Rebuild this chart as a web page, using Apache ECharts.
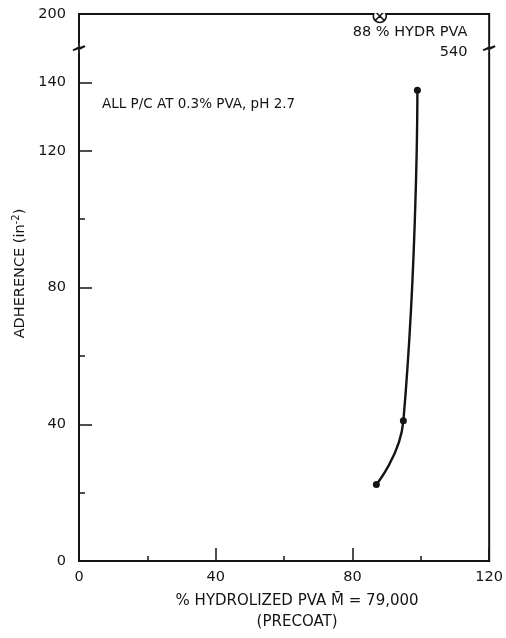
<!DOCTYPE html>
<html>
<head>
<meta charset="utf-8">
<script src="https://cdn.jsdelivr.net/npm/echarts@6/dist/echarts.min.js"></script>
<style>
  html, body { margin: 0; padding: 0; background: #fff; }
  #chart { width: 506px; height: 638px; }
</style>
</head>
<body>
<div id="chart"></div>
<script>
// Precoat series: % hydrolysis of PVA vs adherence
const hydrolysis = [87.0, 94.9, 99.0];
const adherence = [22.4, 41.0, 137.7];

// Off-scale reference point (plotted at the top of the axis)
const offScaleX = 88;
const offScaleY = 540;

// Axis ticks and labels
const xMajorTicks = [0, 40, 80, 120];
const yLabelValues = [0, 40, 80, 120, 140, 200];
const yMajorTicks = [40, 80, 120, 140];
const yMinorTicks = [20, 60, 100];

// Value range hidden by the axis break
const Y_MAX = 200;
const breakStart = 145;
const breakEnd = 195;

const INK = '#141414';
const FONT = 'DejaVu Sans';

const chart = echarts.init(document.getElementById('chart'), null, { renderer: 'canvas' });

const yBase = {
  type: 'value',
  min: 0,
  max: Y_MAX,
  position: 'left',
  breaks: [{ start: breakStart, end: breakEnd, gap: 10 }],
  breakArea: { show: false, itemStyle: { color: 'rgba(0,0,0,0)', borderColor: 'rgba(0,0,0,0)' } },
  splitLine: { show: false }
};

const option = {
  backgroundColor: '#fff',
  animation: false,
  grid: {
    left: 79, right: 16, top: 14, bottom: 71,
    show: true, borderColor: INK, borderWidth: 2, backgroundColor: 'transparent'
  },
  title: {
    text: 'ALL P/C AT 0.3% PVA, pH 2.7',
    left: 97, top: 92,
    textStyle: { fontFamily: FONT, fontSize: 13.5, fontWeight: 'normal', color: INK }
  },
  xAxis: [{
    type: 'value',
    min: 0, max: 120, interval: 40,
    name: '% HYDROLIZED PVA M\u0304 = 79,000\n(PRECOAT)',
    nameLocation: 'middle',
    nameGap: 30,
    nameTextStyle: { fontFamily: FONT, fontSize: 15, color: INK, lineHeight: 21, padding: [0, 0, 0, 26] },
    axisLine: { show: true, lineStyle: { color: INK, width: 2 } },
    axisTick: { show: true, inside: true, length: 13, lineStyle: { color: INK, width: 1.5 },
      customValues: xMajorTicks },
    minorTick: { show: true, splitNumber: 2, length: 5, lineStyle: { color: INK, width: 1.5 } },
    axisLabel: { fontFamily: FONT, fontSize: 14.5, color: INK, margin: 9, customValues: xMajorTicks },
    splitLine: { show: false }
  }],
  yAxis: [
    Object.assign({}, yBase, {
      name: '{n|ADHERENCE (in}{s|-2}{n|)}',
      nameLocation: 'middle',
      nameGap: 48,
      nameTextStyle: {
        padding: [0, 0, 0, 28],
        rich: {
          n: { fontFamily: FONT, fontSize: 14.5, color: INK },
          s: { fontFamily: FONT, fontSize: 10, color: INK, verticalAlign: 'top', padding: [0, 0, 8, 0] }
        }
      },
      axisLine: { show: true, lineStyle: { color: INK, width: 2 } },
      axisTick: { show: true, inside: true, length: 13, lineStyle: { color: INK, width: 1.5 },
        customValues: yMajorTicks },
      axisLabel: { fontFamily: FONT, fontSize: 14.5, color: INK, margin: 13, customValues: yLabelValues }
    }),
    Object.assign({}, yBase, {
      axisLine: { show: false },
      axisTick: { show: true, inside: true, length: 6, lineStyle: { color: INK, width: 1.5 },
        customValues: yMinorTicks },
      axisLabel: { show: false }
    })
  ],
  series: [
    {
      type: 'line',
      data: hydrolysis.map((x, i) => [x, adherence[i]]),
      smooth: 0.5,
      symbol: 'circle',
      symbolSize: 7,
      showSymbol: true,
      lineStyle: { color: INK, width: 2.4 },
      itemStyle: { color: INK },
      z: 5
    },
    {
      type: 'scatter',
      data: [[offScaleX, Math.min(offScaleY, Y_MAX), offScaleY]],
      symbol: 'path://M0,10 A10,10 0 1,1 20,10 A10,10 0 1,1 0,10 Z M3,3 L17,17 M17,3 L3,17',
      symbolSize: 13,
      symbolOffset: [0, 2],
      itemStyle: { color: '#fff', borderColor: INK, borderWidth: 1.6, opacity: 1 },
      label: {
        show: true,
        position: [95, 14],
        align: 'right',
        fontFamily: FONT, fontSize: 14.5, color: INK, lineHeight: 20,
        formatter: p => offScaleX + ' % HYDR PVA\n' + p.value[2]
      },
      z: 4
    }
  ]
};

chart.setOption(option);

// Break marks on the left and right frame lines, and a mask that trims the
// off-scale marker at the top edge of the plot
function drawDecorations() {
  const lo = chart.convertToPixel({ gridIndex: 0 }, [0, breakStart]);
  const hi = chart.convertToPixel({ gridIndex: 0 }, [120, breakEnd]);
  const c = (lo[1] + hi[1]) / 2;
  const xs = [lo[0], hi[0]];
  const elements = [];
  xs.forEach(x => {
    elements.push({
      type: 'rect', z: 100,
      shape: { x: x - 3, y: c - 5, width: 6, height: 10 },
      style: { fill: '#fff' }
    });
    elements.push({
      type: 'polyline', z: 101,
      shape: { points: [[x, c - 6], [x, c - 1], [x - 6, c + 2], [x + 6, c - 2], [x, c + 1], [x, c + 6]] },
      style: { stroke: INK, lineWidth: 1.8, fill: null }
    });
  });
  const mk = chart.convertToPixel({ gridIndex: 0 }, [offScaleX, Y_MAX]);
  elements.push({
    type: 'rect', z: 100,
    shape: { x: mk[0] - 10, y: mk[1] - 12, width: 20, height: 11 },
    style: { fill: '#fff' }
  });
  chart.setOption({ graphic: elements });
}
drawDecorations();
</script>
</body>
</html>
